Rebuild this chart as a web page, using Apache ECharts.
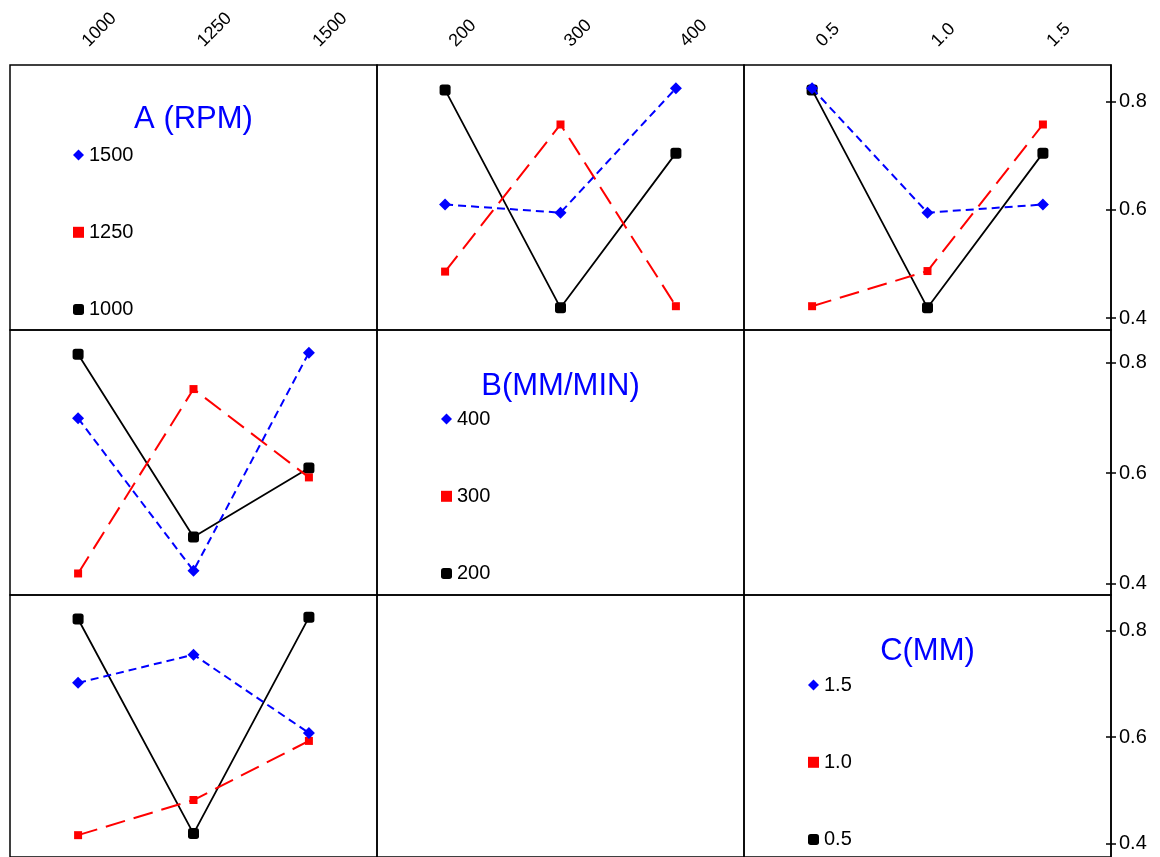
<!DOCTYPE html>
<html>
<head>
<meta charset="utf-8">
<script src="https://cdn.jsdelivr.net/npm/echarts@6/dist/echarts.min.js"></script>
<style>
    html, body {margin: 0; padding: 0; background: #fff;}
    #chart {width: 1160px; height: 857px;}
</style>
</head>
<body>
<div id="chart"></div>
<script>
    // factor levels (tick labels)
    const levelsA = ['1000', '1250', '1500'];
    const levelsB = ['200', '300', '400'];
    const levelsC = ['0.5', '1.0', '1.5'];
    const factorTitles = ['A (RPM)', 'B(MM/MIN)', 'C(MM)'];
    const yTicks = [0.4, 0.6, 0.8];

    // row 1: response vs B, one line per A level
    const vsB_A1000 = [0.822, 0.419, 0.705];
    const vsB_A1250 = [0.486, 0.758, 0.422];
    const vsB_A1500 = [0.610, 0.595, 0.825];
    // row 1: response vs C, one line per A level
    const vsC_A1000 = [0.822, 0.419, 0.705];
    const vsC_A1250 = [0.422, 0.487, 0.758];
    const vsC_A1500 = [0.825, 0.595, 0.610];
    // row 2: response vs A, one line per B level
    const vsA_B200 = [0.815, 0.484, 0.609];
    const vsA_B300 = [0.418, 0.752, 0.592];
    const vsA_B400 = [0.699, 0.423, 0.818];
    // row 3: response vs A, one line per C level
    const vsA_C05 = [0.822, 0.419, 0.825];
    const vsA_C10 = [0.416, 0.482, 0.593];
    const vsA_C15 = [0.702, 0.755, 0.608];

    const font = '"Liberation Sans", Arial, sans-serif';
    const colLeft = [10, 377, 744], rowTop = [65, 330, 595];
    const cellW = 367, cellH = 265;
    const yMin = [0.378, 0.379, 0.375], yMax = [0.868, 0.859, 0.867];
    const colLevels = [levelsA, levelsB, levelsC];

    // style per level index: low = black solid, mid = red long dash, high = blue short dash
    const looks = [
        {color: '#000000', symbol: 'roundRect', size: 11, type: 'solid', width: 1.8},
        {color: '#ff0000', symbol: 'rect', size: 8, type: [20, 9], width: 2},
        {color: '#0000ff', symbol: 'diamond', size: 12, type: [8, 5], width: 2}
    ];

    const cells = [
        {row: 0, col: 1, names: levelsA, lines: [vsB_A1000, vsB_A1250, vsB_A1500]},
        {row: 0, col: 2, names: levelsA, lines: [vsC_A1000, vsC_A1250, vsC_A1500]},
        {row: 1, col: 0, names: levelsB, lines: [vsA_B200, vsA_B300, vsA_B400]},
        {row: 2, col: 0, names: levelsC, lines: [vsA_C05, vsA_C10, vsA_C15]}
    ];

    let grid = [], xAxis = [], yAxis = [], series = [];
    for (let r = 0; r < 3; r++) {
        for (let c = 0; c < 3; c++) {
            let idx = r * 3 + c;
            grid.push({
                left: colLeft[c], top: rowTop[r], width: cellW, height: cellH,
                show: true, borderColor: '#000', borderWidth: 1.5, backgroundColor: 'transparent'
            });
            xAxis.push({
                gridIndex: idx, type: 'value', min: -0.59, max: 2.59, position: 'top',
                show: r === 0,
                axisLine: {show: false, onZero: false}, axisTick: {show: false}, splitLine: {show: false},
                axisLabel: {
                    customValues: [0, 1, 2],
                    formatter: v => colLevels[c][Math.round(v)],
                    rotate: -45, margin: 14, padding: [0, 0, 0, 10],
                    fontSize: 18, color: '#000', fontFamily: font
                }
            });
            yAxis.push({
                gridIndex: idx, type: 'value', min: yMin[r], max: yMax[r], position: 'right',
                show: c === 2,
                axisLine: {show: true, onZero: false, lineStyle: {color: '#000', width: 1.5}},
                axisTick: {show: true, customValues: yTicks, length: 5, lineStyle: {color: '#000', width: 1.5}},
                splitLine: {show: false},
                axisLabel: {
                    customValues: yTicks, formatter: v => v.toFixed(1),
                    margin: 8, fontSize: 20, color: '#000', fontFamily: font
                }
            });
        }
    }
    // inner half of the crossing ticks on the right axis
    for (let r = 0; r < 3; r++) {
        yAxis.push({
            gridIndex: r * 3 + 2, type: 'value', min: yMin[r], max: yMax[r], position: 'right',
            axisLine: {show: false, onZero: false},
            axisTick: {show: true, inside: true, customValues: yTicks, length: 5, lineStyle: {color: '#000', width: 1.5}},
            axisLabel: {show: false}, splitLine: {show: false}
        });
    }

    cells.forEach(cell => {
        let idx = cell.row * 3 + cell.col;
        cell.lines.forEach((vals, i) => {
            let lk = looks[i];
            series.push({
                type: 'line',
                name: cell.names[i],
                xAxisIndex: idx, yAxisIndex: idx,
                data: vals.map((v, j) => [j, v]),
                symbol: lk.symbol, symbolSize: lk.size,
                showAllSymbol: true,
                itemStyle: {color: lk.color},
                lineStyle: {color: lk.color, type: lk.type, width: lk.width},
                animation: false,
                z: 2 + i
            });
        });
    });

    const legendLeft = [68, 436, 803], legendTop = [140, 404, 670];
    const legendNames = [levelsA, levelsB, levelsC];
    let legend = legendNames.map((names, k) => ({
        orient: 'vertical',
        left: legendLeft[k], top: legendTop[k],
        itemWidth: 11, itemHeight: 11, itemGap: 57.3,
        selectedMode: false,
        data: [2, 1, 0].map(i => ({name: names[i], icon: looks[i].symbol})),
        textStyle: {fontSize: 20, color: '#000', fontFamily: font}
    }));

    const titleLeft = [188.5, 555.5, 922.5], titleTop = [99, 366, 631];
    let title = factorTitles.map((t, k) => ({
        text: t, left: titleLeft[k], top: titleTop[k], textAlign: 'center',
        textStyle: {color: '#0000ff', fontSize: 31, fontWeight: 'normal', fontFamily: font}
    }));

    let option = {
        animation: false,
        backgroundColor: '#fff',
        title: title,
        legend: legend,
        grid: grid,
        xAxis: xAxis,
        yAxis: yAxis,
        series: series
    };
    echarts.init(document.getElementById('chart')).setOption(option);
</script>
</body>
</html>
